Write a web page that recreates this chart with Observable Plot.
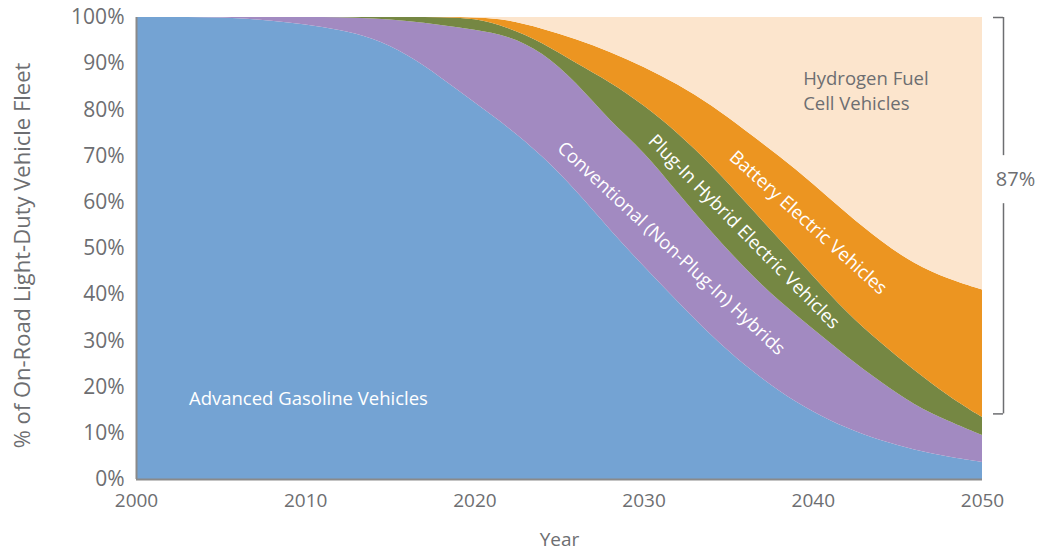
<!DOCTYPE html>
<html>
<head>
<meta charset="utf-8">
<script src="https://cdn.jsdelivr.net/npm/d3@7"></script>
<script src="https://cdn.jsdelivr.net/npm/@observablehq/plot@0.6"></script>
<style>
  html, body { margin: 0; padding: 0; background: #ffffff; }
  #chart { width: 1039px; height: 552px; }
</style>
</head>
<body>
<div id="chart"></div>
<script>
// ---- data (percent of on-road light-duty fleet) ----
const years = [2000, 2002, 2004, 2006, 2008, 2010, 2012, 2014, 2016, 2018, 2020, 2022, 2024,
               2026, 2028, 2030, 2032, 2034, 2036, 2038, 2040, 2042, 2044, 2046, 2048, 2050];
const categories = [
  "Advanced Gasoline Vehicles",
  "Conventional (Non-Plug-In) Hybrids",
  "Plug-In Hybrid Electric Vehicles",
  "Battery Electric Vehicles",
  "Hydrogen Fuel Cell Vehicles"
];
const gasoline = [100, 100, 100, 99.8, 99.2, 98.4, 97.3, 95.5, 92, 87, 81.5, 76.2, 70,
                  62.5, 54, 46, 38.5, 31, 24.5, 19, 14.5, 11, 8.3, 6.3, 4.8, 3.7];
const hybrids  = [0, 0, 0, 0.2, 0.8, 1.6, 2.7, 4.2, 7.2, 11.3, 15.8, 19.8, 22.5,
                  23.5, 23.5, 25, 23.5, 22.5, 21, 19.5, 18, 15.5, 12.7, 9.7, 7.7, 5.8];
const plugIn   = [0, 0, 0, 0, 0, 0, 0, 0.3, 0.8, 1.7, 2.5, 1.8, 2.0,
                  4.0, 8.5, 10, 13, 14.5, 14.5, 13.5, 11.5, 9.5, 8.5, 7.5, 5.5, 3.9];
const battery  = [0, 0, 0, 0, 0, 0, 0, 0, 0, 0, 0.2, 1.7, 3.0,
                  5.3, 6.5, 8.3, 10.5, 13, 15.5, 18, 20, 21.5, 22, 23, 25.3, 27.6];
const hydrogen = [0, 0, 0, 0, 0, 0, 0, 0, 0, 0, 0, 0.5, 2.5,
                  4.7, 7.5, 10.7, 14.5, 19, 24.5, 30, 36, 42.5, 48.5, 53.5, 56.7, 59];
const seriesValues = [gasoline, hybrids, plugIn, battery, hydrogen];
const colors = ["#74a3d3", "#a28ac1", "#758743", "#ec9521", "#fce5cd"];
const xTicks = [2000, 2010, 2020, 2030, 2040, 2050];
const yTicks = [0, 10, 20, 30, 40, 50, 60, 70, 80, 90, 100];
const bracketShare = [{from: 13, to: 100, label: "87%"}];

// long table built from the arrays above
const table = [];
categories.forEach((type, i) => {
  years.forEach((year, j) => table.push({year, type, value: seriesValues[i][j]}));
});

const gray = "#6d6e71";
const font = "'Open Sans', sans-serif";
const b = bracketShare[0];

const chart = Plot.plot({
  width: 1039,
  height: 552,
  marginLeft: 136,
  marginRight: 57,
  marginTop: 17,
  marginBottom: 73,
  style: {fontFamily: font, fontSize: "19px", color: gray, background: "#ffffff", overflow: "visible"},
  x: {domain: [2000, 2050]},
  y: {domain: [0, 100]},
  color: {domain: categories, range: colors},
  marks: [
    Plot.areaY(table, {x: "year", y: "value", fill: "type", order: categories, curve: "basis"}),
    // axis lines
    Plot.ruleY([0], {stroke: "#8a8a8a", strokeWidth: 2}),
    Plot.ruleX([2000], {stroke: "#8a8a8a", strokeWidth: 2}),
    Plot.axisX({ticks: xTicks, tickSize: 0, tickPadding: 14, tickFormat: d => String(d), label: null,
                fontSize: 19, fill: gray}),
    Plot.axisY({ticks: yTicks, tickSize: 0, tickPadding: 12, tickFormat: d => d + "%", label: null,
                fontSize: 21, fill: gray}),
    Plot.text(["Year"], {frameAnchor: "bottom", dy: 66, fontSize: 19, fill: gray}),
    Plot.text(["% of On-Road Light-Duty Vehicle Fleet"], {frameAnchor: "left", textAnchor: "middle",
                dx: -114, dy: 7, rotate: -90, fontSize: 22, fill: gray}),
    // in-chart series labels
    Plot.text([categories[0]], {x: 2003.1, y: 17.3, textAnchor: "start", fill: "white", fontSize: 18.5}),
    Plot.text([categories[1]], {x: 2031.6, y: 50, rotate: 43, fill: "white", fontSize: 18.5}),
    Plot.text([categories[2]], {x: 2035.9, y: 53.6, rotate: 45.5, fill: "white", fontSize: 18.5}),
    Plot.text([categories[3]], {x: 2039.7, y: 55.6, rotate: 42, fill: "white", fontSize: 18.5}),
    Plot.text(["Hydrogen Fuel\nCell Vehicles"], {x: 2039.4, y: 84.5, textAnchor: "start", fill: gray,
                fontSize: 18.5, lineHeight: 1.35}),
    // bracket annotation
    Plot.ruleX([{y1: b.from + 1.2, y2: 59.7}, {y1: 70.1, y2: b.to}], {x: 2050, y1: "y1", y2: "y2", dx: 21,
                stroke: gray, strokeWidth: 1.5}),
    Plot.ruleY([b.from + 1.2, b.to], {x1: 2050, x2: 2050, insetLeft: 11, insetRight: -21, stroke: gray, strokeWidth: 1.5}),
    Plot.text(bracketShare, {x: 2050, y: 64.9, text: "label", dx: 33, fill: gray, fontSize: 20})
  ]
});
document.getElementById("chart").appendChild(chart);
</script>
</body>
</html>
